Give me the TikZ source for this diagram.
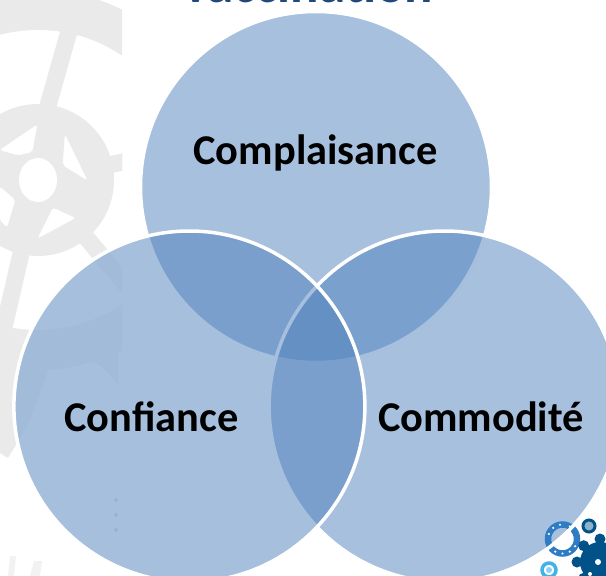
\documentclass[tikz,border=0pt]{standalone}
\usepackage{fontspec}
\setmainfont{Carlito}
\definecolor{vennblue}{RGB}{79,129,189}
\definecolor{titleblue}{RGB}{31,73,125}
\definecolor{gearA}{RGB}{46,125,196}
\definecolor{gearB}{RGB}{0,82,136}
\definecolor{gearC}{RGB}{64,180,230}
\definecolor{bgrey}{RGB}{234,234,234}
\tikzset{
  venn/.style={circle,minimum size=351pt,inner sep=0pt,outer sep=0pt,fill=vennblue,fill opacity=0.5,draw=white,draw opacity=1,line width=3.5pt},
  vlabel/.style={anchor=base,font=\bfseries\fontsize{42.4}{42.4}\selectfont,text=black,inner sep=0pt},
  bgspoke/.style={draw=bgrey,line width=17pt},
  bgwin/.style={fill=white,draw=white,rounded corners=2pt}
}
\begin{document}
\begin{tikzpicture}[x=1pt,y=-1pt]
\useasboundingbox (0,0) rectangle (606,576);
\begin{scope}
\clip (0,0) rectangle (606,576);
% faint background gear, cut at x=122
\begin{scope}
\clip (-5,-5) rectangle (122,480);
\fill[bgrey] (38,180) circle[radius=190pt];
\fill[white] (38,180) circle[radius=150pt];
\fill[bgrey] (38,180) circle[radius=76pt];
\draw[bgspoke] (27,180) -- (75,10);
\foreach \a in {-12,50,103,165,225} \draw[bgspoke] (38,180) -- ++(\a:170);
\fill[bgrey] (-5,360) -- (50,366) -- (28,425) -- (8,458) -- (-5,450) -- cycle;
\fill[bgrey] (50,368) .. controls (70,352) and (95,352) .. (118,385) -- (118,340) -- (50,345) -- cycle;
\end{scope}
\draw[bgwin] (0,150) -- (37,125) -- (32,152) -- (18,155) -- cycle;
\draw[bgwin] (65,135) -- (87,180) -- (63,165) -- cycle;
\draw[bgwin] (75,218) -- (53,208) -- (38,238) -- cycle;
\draw[bgwin] (0,187) -- (15,200) -- (7,227) -- (0,220) -- cycle;
\fill[white] (38,180) ellipse[x radius=19pt,y radius=22pt];
\fill[black!5] (8,576) -- (10,556) -- (16,556) -- (14,576) -- cycle;
\fill[black!5] (30,576) -- (34,561) -- (42,561) -- (40,576) -- cycle;
% the gear shows only faintly through the lower left circle
\fill[white,opacity=0.6] (189,406.5) circle[radius=175.5pt];
\fill[black!10] (116,500) circle[radius=2pt] (116,515) circle[radius=2pt] (116,530) circle[radius=2pt];
% title, cut by the top edge as in the reference
\node[anchor=base,font=\bfseries\fontsize{53}{53}\selectfont,text=titleblue,inner sep=0pt] (title) at (308,2) {vaccination};
\node[venn] (top) at (316,187) {};
\node[venn] (right) at (444.6,406.5) {};
\node[venn] (left) at (189.4,406.5) {};
\node[vlabel] (a) at (315.5,164) {Complaisance};
\node[vlabel] (b) at (151.5,431) {Confiance};
\node[vlabel] (c) at (481,431) {Commodité};
% corner gears
\draw[gearA,line width=6.5pt] (562.5,539) circle[radius=14.5pt];
\foreach \a in {30,60,90,120,150,-60,-100,-130,-160}
  \fill[white] (562.5,539) ++(\a:14.5) circle[radius=1.2pt];
\begin{scope}
\clip (500,480) rectangle (606,576);
\draw[white,line width=3.5pt] (right.center) circle[radius=175.5pt];
\end{scope}
\draw[gearB,line width=3pt,fill=gearB!45] (589,526) circle[radius=6pt];
\draw[gearC,line width=3.5pt,fill=white] (549,570) circle[radius=7pt];
\fill[gearC!60] (549,570) circle[radius=3pt];
\fill[gearB] (600,562) circle[radius=20pt];
\foreach \a in {0,45,...,315} \fill[gearB] (600,562) ++(\a:23) circle[radius=5.5pt];
\fill[white] (598,562) circle[radius=3pt];
\fill[white] (590,574) circle[radius=2pt];
\end{scope}
\end{tikzpicture}
\end{document}
